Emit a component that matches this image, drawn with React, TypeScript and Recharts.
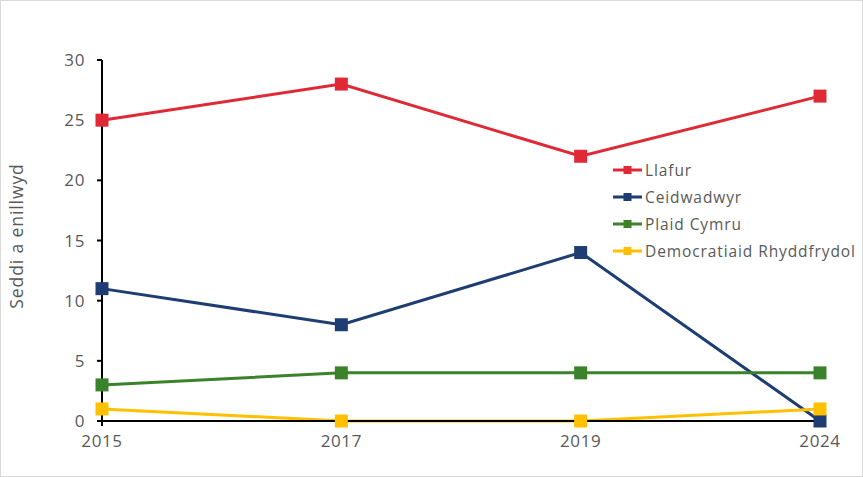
import { LineChart, Line, XAxis, YAxis, Legend } from 'recharts'

const years = ['2015', '2017', '2019', '2024']
const llafur = [25, 28, 22, 27]
const ceidwadwyr = [11, 8, 14, 0]
const plaid = [3, 4, 4, 4]
const democratiaid = [1, 0, 0, 1]
const yTicks = [0, 5, 10, 15, 20, 25, 30]

const series = [
  { key: 'llafur', name: 'Llafur', color: '#DF2A35', values: llafur },
  { key: 'ceidwadwyr', name: 'Ceidwadwyr', color: '#1D3D73', values: ceidwadwyr },
  { key: 'plaid', name: 'Plaid Cymru', color: '#3B832A', values: plaid },
  { key: 'democratiaid', name: 'Democratiaid Rhyddfrydol', color: '#FFC000', values: democratiaid },
]

const data = years.map((year, i) => {
  const row: Record<string, string | number> = { year }
  series.forEach((s) => {
    row[s.key] = s.values[i]
  })
  return row
})

const FONT = "'Open Sans', sans-serif"
const TEXT = '#595959'

function squareDot(color: string) {
  return (props: any) => {
    const { cx, cy, index } = props
    return <rect key={index} x={cx - 6.5} y={cy - 6.5} width={13} height={13} fill={color} />
  }
}

function LegendBox() {
  return (
    <div style={{ fontFamily: FONT, fontSize: 15.5, color: TEXT, letterSpacing: 0.9 }}>
      {series.map((s) => (
        <div key={s.key} style={{ display: 'flex', alignItems: 'center', height: 27 }}>
          <svg width={30} height={10} style={{ marginRight: 2 }}>
            <line x1={0} y1={5} x2={29} y2={5} stroke={s.color} strokeWidth={3} />
            <rect x={10.5} y={1} width={8} height={8} fill={s.color} />
          </svg>
          <span>{s.name}</span>
        </div>
      ))}
    </div>
  )
}

// rotated axis title, placed like the original
function AxisTitle() {
  return (
    <text
      x={22}
      y={235}
      transform="rotate(-90 22 235)"
      textAnchor="middle"
      fill={TEXT}
      fontSize={17.5}
      fontFamily={FONT}
      letterSpacing={0.9}
    >
      Seddi a enillwyd
    </text>
  )
}

export default function App() {
  return (
    <div
      style={{
        position: 'absolute',
        left: 0,
        top: 0,
        width: 861,
        height: 475,
        border: '1px solid #d9d9d9',
        background: '#fff',
        overflow: 'hidden',
      }}
    >
      <LineChart
        width={861}
        height={475}
        data={data}
        margin={{ top: 59, right: 42, left: 0, bottom: 0 }}
      >
        <XAxis
          dataKey="year"
          height={55}
          stroke="#000"
          strokeWidth={2}
          tickSize={5}
          tickMargin={9}
          tick={{ fill: TEXT, fontSize: 17, fontFamily: FONT, letterSpacing: 0.6 }}
          interval={0}
        />
        <YAxis
          domain={[0, 30]}
          ticks={yTicks}
          width={101}
          stroke="#000"
          strokeWidth={2}
          tickSize={5}
          tickMargin={12}
          tick={{ fill: TEXT, fontSize: 17, fontFamily: FONT, letterSpacing: 0.6 }}
          label={{ content: () => <AxisTitle /> }}
        />
        <Legend
          layout="vertical"
          align="center"
          verticalAlign="middle"
          content={() => <LegendBox />}
          wrapperStyle={{ left: 612, top: 155, width: 250 }}
        />
        {series.map((s) => (
          <Line
            key={s.key}
            dataKey={s.key}
            name={s.name}
            stroke={s.color}
            strokeWidth={3}
            dot={squareDot(s.color)}
            activeDot={false}
            isAnimationActive={false}
          />
        ))}
      </LineChart>
    </div>
  )
}
